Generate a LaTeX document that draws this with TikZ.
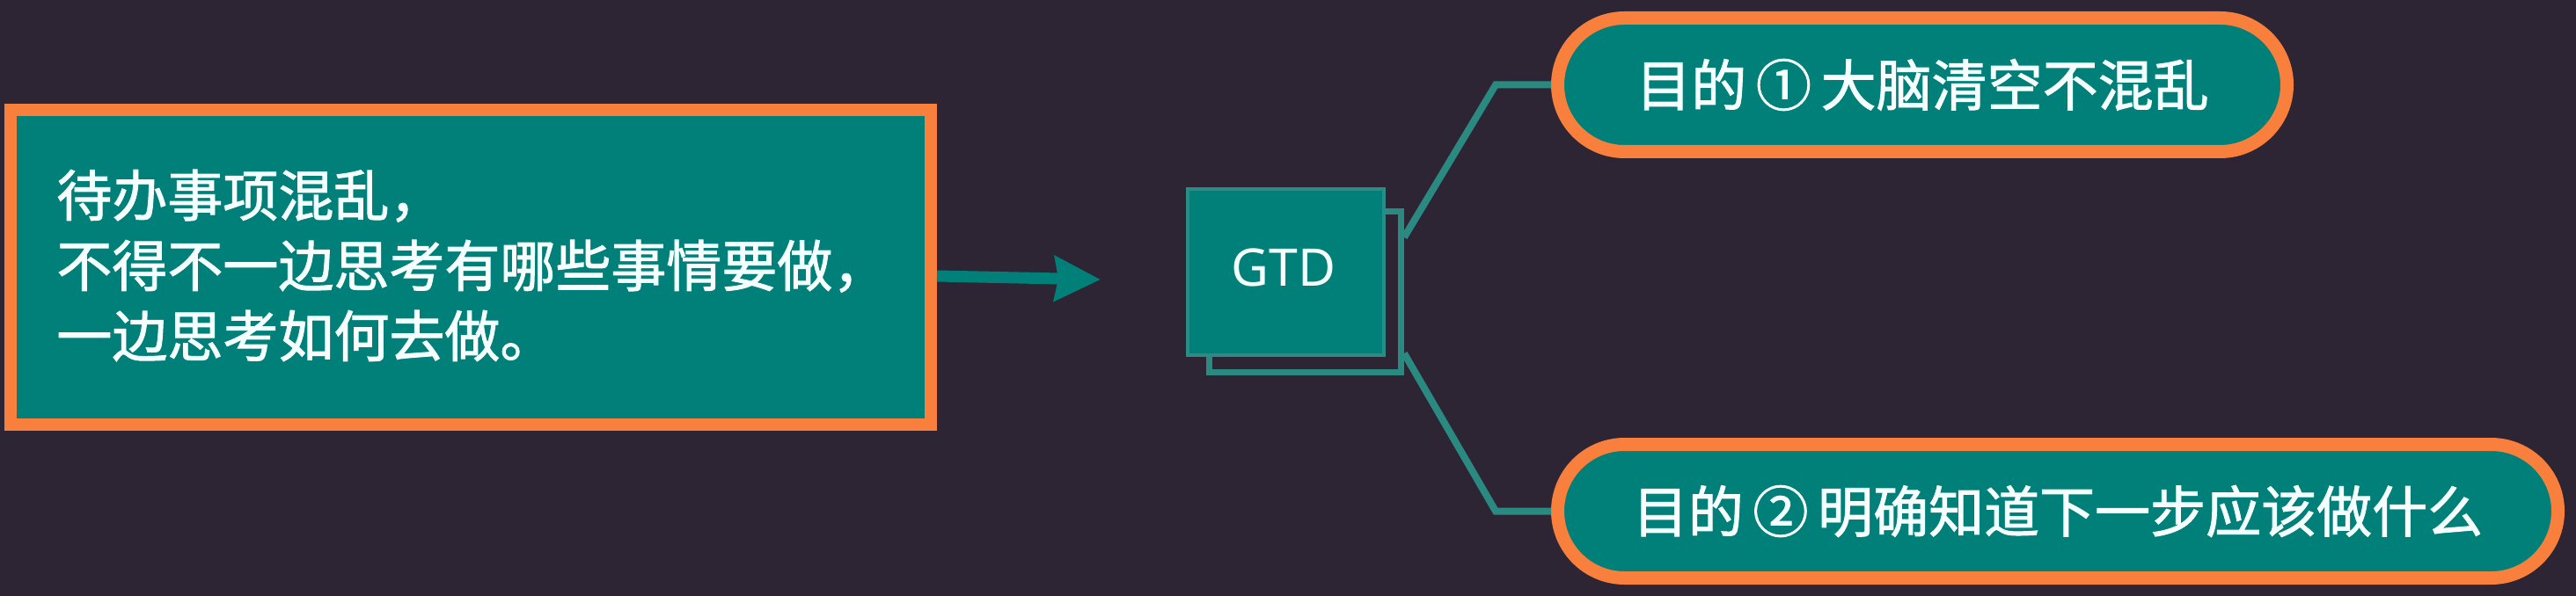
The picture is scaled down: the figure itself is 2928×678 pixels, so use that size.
\documentclass[tikz,border=0pt]{standalone}
\usepackage{fontspec}
\setmainfont[FakeBold=1.5,AutoFakeBold=1.5]{Noto Sans CJK SC}
\newfontfamily\cjkmed[FakeBold=1.5]{Noto Sans CJK SC}
\newfontfamily\gtdfont{Noto Sans}
\usetikzlibrary{arrows.meta,calc}
\definecolor{bgc}{HTML}{2D2534}
\definecolor{tealc}{HTML}{008079}
\definecolor{orangec}{HTML}{F8803C}
\definecolor{linkc}{HTML}{2A8A82}
\definecolor{edgec}{HTML}{2A8C85}
\definecolor{txtc}{HTML}{F5FFFF}
\tikzset{
  probbox/.style={draw=orangec, line width=7pt, fill=tealc, inner sep=0pt,
    minimum width=523pt, minimum height=179pt},
  bodytxt/.style={text=txtc, inner sep=0pt, font=\cjkmed\fontsize{31.5pt}{40pt}\selectfont},
  pill/.style={draw=orangec, line width=7.5pt, fill=tealc, rounded corners=38pt,
    inner sep=0pt, minimum height=76pt, text=txtc, font=\cjkmed\fontsize{31.5pt}{40pt}\selectfont},
  frontbox/.style={draw=edgec, line width=2pt, fill=tealc, inner sep=0pt,
    minimum width=111.5pt, minimum height=94.5pt},
  backbox/.style={draw=linkc, line width=3.5pt, inner sep=0pt,
    minimum width=109pt, minimum height=91.5pt},
  mainarrow/.style={draw=tealc, line width=6.5pt, -{Stealth[length=26pt,width=25pt,inset=2pt]}},
  link/.style={draw=linkc, line width=4pt, line join=miter},
}
\newcommand{\gap}{\hspace{0.17em}}
\begin{document}
\begin{tikzpicture}[x=0.5pt,y=-0.5pt]
\useasboundingbox (0,0) rectangle (2928,678);
\fill[bgc] (0,0) rectangle (2928,678);
% left problem box
\node[probbox] (prob) at (535,304) {};
\node[bodytxt, anchor=west, align=left] (probtxt) at (64,302)
  {待办事项混乱，\\不得不一边思考有哪些事情要做，\\一边思考如何去做。};
% arrow
\coordinate (tip) at (1251,318);
\coordinate (tail) at (1050,314);
\draw[mainarrow] (prob.east |- tail) -- (tip);
% GTD boxes
\node[backbox] (gtdback) at (1483.5,332) {};
\node[frontbox] (gtd) at (1461.5,309.5) {};
\node[text=txtc, inner sep=0pt, font=\gtdfont\fontsize{29.5pt}{30pt}\selectfont] (gtdlabel) at (1459,304) {GTD};
% pills
\node[pill, minimum width=414.5pt] (goal1) at (2185,96.5) {目的\gap{}①\gap{}大脑清空不混乱};
\node[pill, minimum width=568.5pt] (goal2) at (2339,581.5) {目的\gap{}②\gap{}明确知道下一步应该做什么};
% connectors
\coordinate (s1) at ($(gtdback.east)+(0,-62)$);
\coordinate (s2) at ($(gtdback.east)+(0,70)$);
\draw[link] (s1) -- (1700,0 |- goal1.west) -- (goal1.west);
\draw[link] (s2) -- (1700,0 |- goal2.west) -- (goal2.west);
\end{tikzpicture}
\end{document}
